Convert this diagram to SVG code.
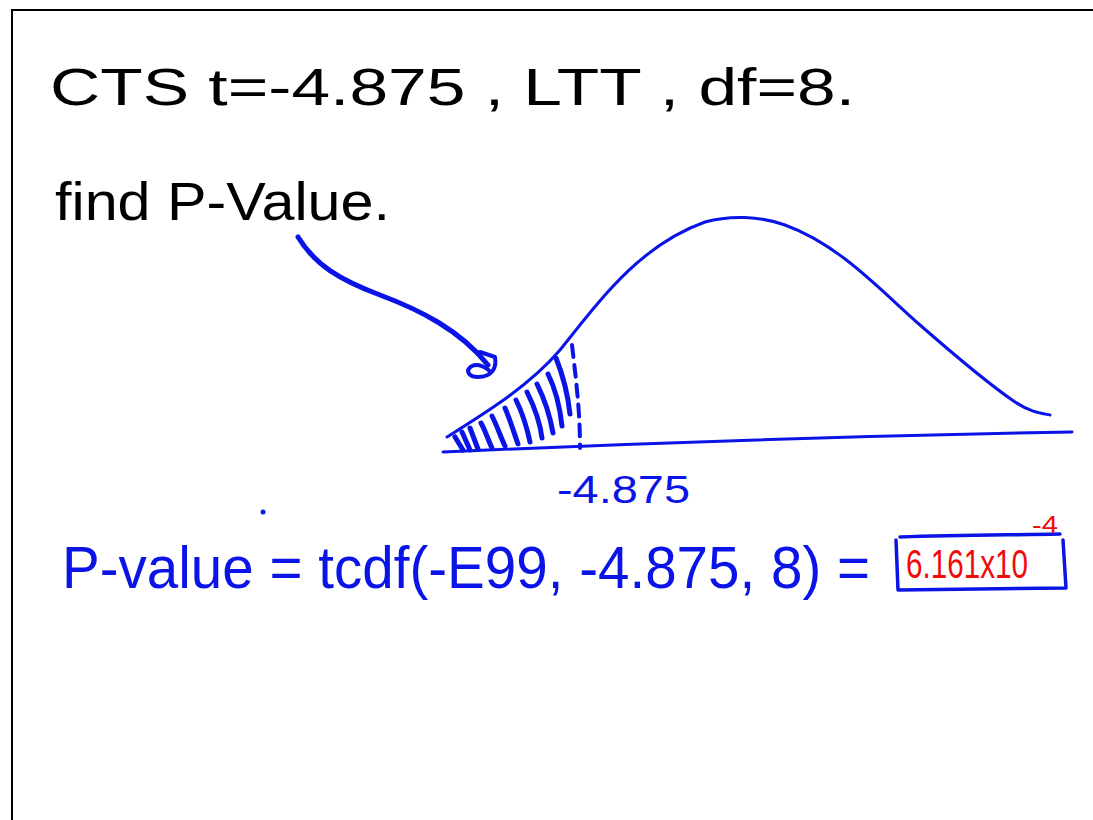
<svg xmlns="http://www.w3.org/2000/svg" width="1093" height="820" viewBox="0 0 1093 820">
<style>
.blk{font-family:"Liberation Sans",Arial,sans-serif;fill:#000;font-weight:300}
.blu{font-family:"Liberation Sans",Arial,sans-serif;fill:#0a14e6}
.red{font-family:"Liberation Sans",Arial,sans-serif;fill:#f00a0a}
.ln{fill:none;stroke:#0a14e6;stroke-linecap:round;stroke-linejoin:round}
</style>
<rect width="1093" height="820" fill="#fff"/>
<path d="M12 820 V10 H1093" fill="none" stroke="#000" stroke-width="2"/>
<g id="header">
<text class="blk" x="50" y="105" font-size="52" textLength="805" lengthAdjust="spacingAndGlyphs">CTS   t=-4.875 , LTT , df=8.</text>
<text class="blk" x="55" y="220" font-size="54" textLength="335" lengthAdjust="spacingAndGlyphs">find P-Value.</text>
</g>
<g id="curve">
<path class="ln" stroke-width="3" d="M443 452 C600 445 800 437 1072 432"/>
<path class="ln" stroke-width="3" d="M447 437 C490 410 530 385 560 350 C600 300 640 245 705 222 C730 215 760 216 785 225 C840 245 880 290 920 325 C960 360 990 385 1015 402 C1030 412 1040 413 1050 415"/>
<path class="ln" stroke-width="4" stroke-dasharray="12 8" d="M572 345 C576 380 580 410 580 448"/>
<g class="ln" stroke-width="5">
<path d="M455 437 L463 450"/><path d="M462 432 L470 450"/><path d="M470 428 L478 449"/>
<path d="M481 423 C486 432 488 440 492 448"/><path d="M492 416 C498 428 501 438 505 446"/>
<path d="M505 408 C511 422 514 433 518 444"/><path d="M516 400 C523 414 527 428 530 442"/>
<path d="M527 392 C535 408 540 422 542 438"/><path d="M537 384 C545 400 550 416 553 433"/>
<path d="M548 374 C556 390 560 408 562 426"/><path d="M556 358 C564 378 568 396 570 414"/>
</g>
</g>
<g id="arrow">
<path class="ln" stroke-width="5" d="M298 237 C315 265 340 280 380 295 C420 310 460 330 488 365"/>
<path class="ln" stroke-width="4" d="M480 352 L495 357 C497 368 492 377 478 377 C468 377 465 370 472 366 C478 363 488 368 490 372"/>
</g>
<g id="label">
<text class="blu" x="557" y="503" font-size="38" textLength="133" lengthAdjust="spacingAndGlyphs">-4.875</text>
</g>
<circle cx="263" cy="512" r="2.5" fill="#0a14e6"/>
<g id="formula">
<text class="blu" x="62" y="588" font-size="60" textLength="808" lengthAdjust="spacingAndGlyphs">P-value = tcdf(-E99, -4.875, 8) =</text>
</g>
<g id="result">
<path class="ln" stroke-width="3.5" d="M896 540 L898 590 L1066 588 L1063 540 M900 537 C960 535 1010 535 1060 534"/>
<text class="red" x="906" y="578" font-size="40" textLength="122" lengthAdjust="spacingAndGlyphs">6.161x10</text>
<text class="red" x="1032" y="533" font-size="24" textLength="26" lengthAdjust="spacingAndGlyphs">-4</text>
</g>
</svg>
